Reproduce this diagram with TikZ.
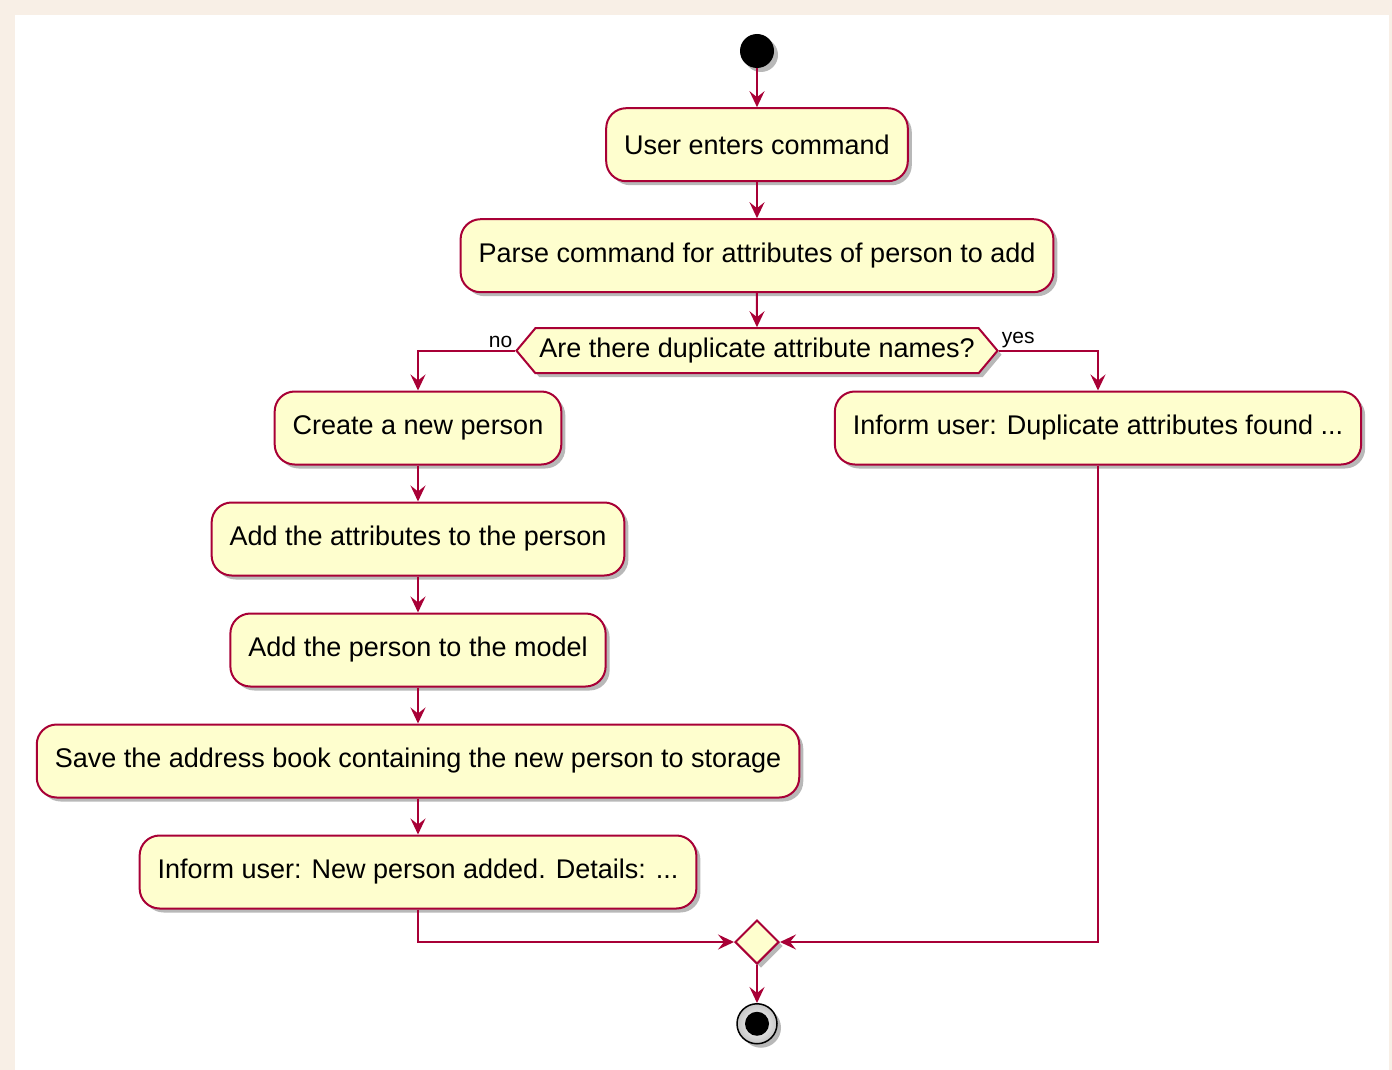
\documentclass[tikz,border=0pt]{standalone}
\usepackage{fontspec}
\setmainfont{Liberation Sans}
\usetikzlibrary{positioning,shapes.geometric,shapes.symbols,shadows,arrows.meta}
\definecolor{umlred}{HTML}{A80036}
\definecolor{umlfill}{HTML}{FEFECE}
\definecolor{umlpage}{HTML}{F8EFE6}

\tikzset{
  umlshadow/.style={drop shadow={shadow xshift=4pt,shadow yshift=-4pt,opacity=0.28,fill=black}},
  action/.style={draw=umlred,fill=umlfill,line width=2pt,rounded corners=20pt,
    minimum height=73pt,inner xsep=18pt,font=\fontsize{27}{32}\selectfont,umlshadow},
  question/.style={signal,signal to=west and east,signal pointer angle=100,
    draw=umlred,fill=umlfill,line width=2pt,minimum height=45pt,inner xsep=4pt,inner ysep=0pt,
    font=\fontsize{27}{32}\selectfont,umlshadow},
  mergebox/.style={diamond,draw=umlred,fill=umlfill,line width=2pt,inner sep=0pt,
    minimum width=44pt,minimum height=44pt,umlshadow},
  flow/.style={draw=umlred,line width=2pt,-{Stealth[length=16pt,width=15pt,inset=6pt]}},
  branch/.style={font=\fontsize{21}{24}\selectfont,inner sep=2pt}
}

\begin{document}
\begin{tikzpicture}[x=1pt,y=-1pt]
\useasboundingbox (0,0) rectangle (1392,1070);
\fill[umlpage] (0,0) rectangle (1392,1070);
\fill[white] (15,15) rectangle (1389,1070);

\node(start)	[circle,fill=black,minimum size=34pt,inner sep=0pt,umlshadow] at (757,51) {};
\node(enter)	[action,below=39pt of start]
{User enters command};
\node(parse)	[action,below=36pt of enter]
{Parse command for attributes of person to add};
\node(decide)	[question,below=34pt of parse]
{Are there duplicate attribute names?};

\node(create)	[action] at (418,428)
{Create a new person};
\node(attrs)	[action,below=36pt of create]
{Add the attributes to the person};
\node(model)	[action,below=36pt of attrs]
{Add the person to the model};
\node(save)		[action,below=36pt of model]
{Save the address book containing the new person to storage};
\node(added)	[action,below=36pt of save]
{Inform user: New person added. Details: ...};

\node(dup)		[action] at (1098,428)
{Inform user: Duplicate attributes found ...};

\node(merge)	[mergebox] at (757,942) {};
\node(stop)		[circle,draw=black,line width=1.5pt,inner color=white,outer color=gray!45,
  minimum size=40pt,inner sep=0pt,umlshadow,below=38pt of merge] {};
\node(stopdot)	[circle,fill=black,minimum size=24pt,inner sep=0pt] at (stop) {};

\draw[flow](start)  -- (enter);
\draw[flow](enter)  -- (parse);
\draw[flow](parse)  -- (decide);
\draw[flow](decide.west) -| node[branch,pos=0,anchor=south east]{no} (create.north);
\draw[flow](decide.east) -| node[branch,pos=0,anchor=south west]{yes} (dup.north);
\draw[flow](create) -- (attrs);
\draw[flow](attrs)  -- (model);
\draw[flow](model)  -- (save);
\draw[flow](save)   -- (added);
\draw[flow](added.south) |- (merge.west);
\draw[flow](dup.south)   |- (merge.east);
\draw[flow](merge)  -- (stop);
\end{tikzpicture}
\end{document}
